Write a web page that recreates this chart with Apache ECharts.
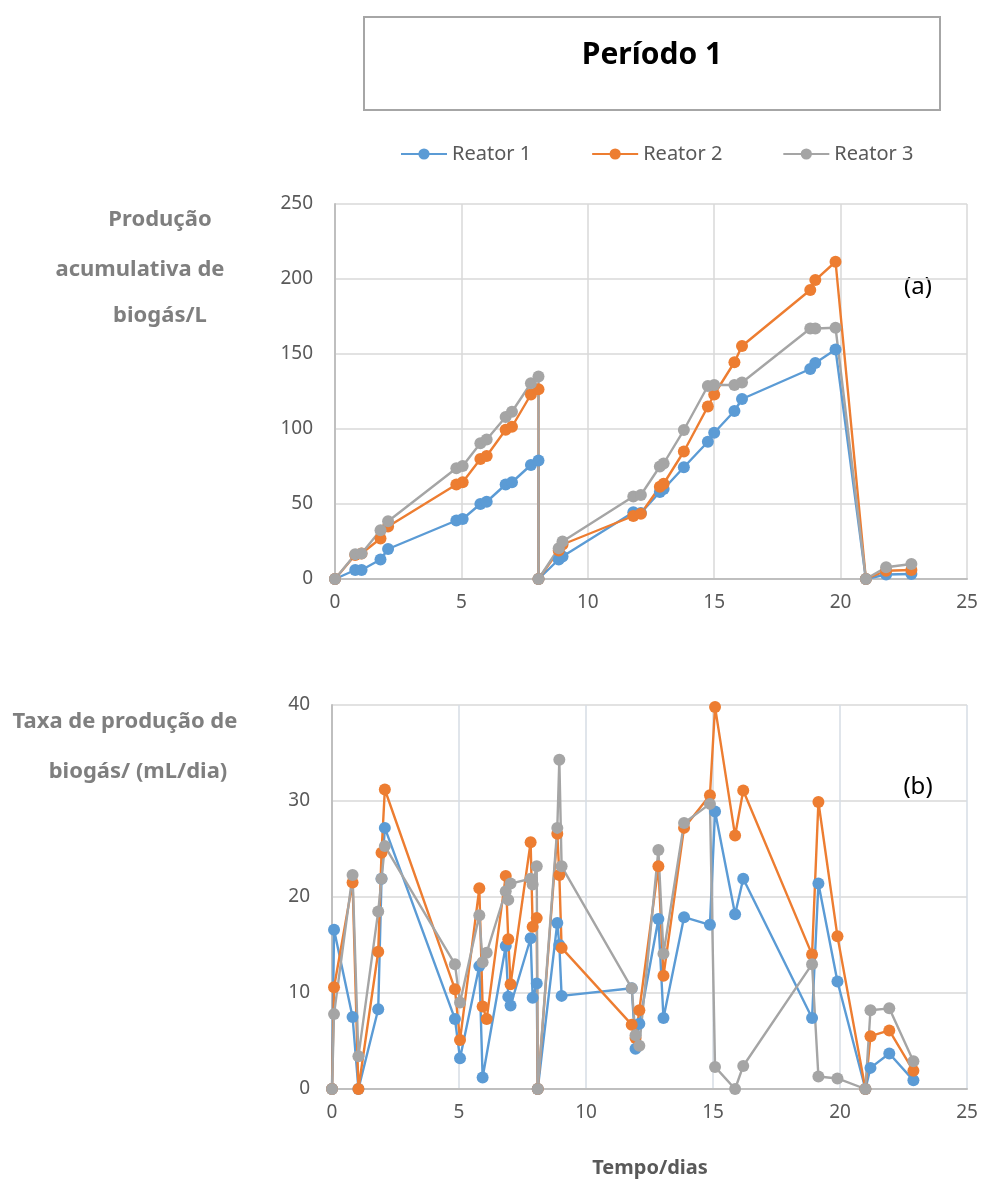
<!DOCTYPE html>
<html>
<head>
<meta charset="utf-8">
<script src="https://cdn.jsdelivr.net/npm/echarts@6.0.0/dist/echarts.min.js"></script>
<style>
html,body{margin:0;padding:0;background:#fff;}
#c{width:986px;height:1184px;}
</style>
</head>
<body>
<div id="c"></div>
<script>
// ---- Data (a): cumulative biogas production (L) ----
const timeA = [0,0.8,1.05,1.8,2.1,4.8,5.05,5.75,6.0,6.75,7.0,7.75,8.05,8.05,8.85,9.0,11.8,12.1,12.85,13.0,13.8,14.75,15.0,15.8,16.1,18.8,19.0,19.8,21.0,21.8,22.8];
const cumR1 = [0,6,6,13,20,39,40,50,51.5,63,64.5,76,79,0,13,15,44.5,44,58,60,74.5,91.5,97.5,112,120,140,144,153,0,3,3.3];
const cumR2 = [0,16,17,27,35,63,64.5,80,82,99.5,101.5,123,126.5,0,19,23,42,43.5,61.5,63.5,85,115,123,144.5,155.3,192.7,199.3,211.5,0,5.5,6];
const cumR3 = [0,16.5,17,32.5,38.5,73.8,75.3,90.5,93,108,111.5,130.5,135,0,20.5,25,55,56,75,77,99.3,128.7,129.3,129.3,131,167,167,167.5,0,7.8,10];

// ---- Data (b): production rate (mL/dia) ----
const timeB = [0,0.08,0.81,1.04,1.82,1.95,2.08,4.84,5.04,5.8,5.93,6.09,6.84,6.94,7.03,7.82,7.9,8.06,8.1,8.87,8.95,9.04,11.8,11.95,12.1,12.85,13.05,13.86,14.88,15.08,15.87,16.19,18.9,19.15,19.9,21.0,21.2,21.94,22.89];
const rateR1 = [0,16.6,7.5,0,8.3,21.9,27.2,7.3,3.2,12.8,1.2,null,14.9,9.6,8.7,15.7,9.5,11.0,0,17.3,15.0,9.7,10.5,4.2,6.8,17.7,7.4,17.9,17.1,28.9,18.2,21.9,7.4,21.4,11.2,0,2.2,3.7,0.9];
const rateR2 = [0,10.6,21.5,0,14.3,24.6,31.2,10.4,5.1,20.9,8.6,7.3,22.2,15.6,10.9,25.7,16.9,17.8,0,26.6,22.3,14.7,6.7,5.3,8.2,23.2,11.8,27.2,30.6,39.8,26.4,31.1,14.0,29.9,15.9,0,5.5,6.1,1.9];
const rateR3 = [0,7.8,22.3,3.4,18.5,21.9,25.3,13.0,9.0,18.1,13.2,14.2,20.6,19.7,21.4,21.9,21.3,23.2,0,27.2,34.3,23.2,10.5,5.6,4.5,24.9,14.1,27.7,29.7,2.3,0,2.4,13.0,1.3,1.1,0,8.2,8.4,2.9];

const seriesNames = ['Reator 1','Reator 2','Reator 3'];
const colors = ['#5B9BD5','#ED7D31','#A5A5A5'];
const xTicks = {min:0,max:25,interval:5};
const yTicksA = {min:0,max:250,interval:50};
const yTicksB = {min:0,max:40,interval:10};

const pair = (xs, ys) => xs.map((x,i) => [x, ys[i]]);

const chart = echarts.init(document.getElementById('c'), null, {renderer:'canvas'});
const FONT = 'Noto Sans';
const labelStyle = {color:'#595959', fontSize:19, fontFamily:FONT};

function mkX(gridIndex, vColor){
  return {type:'value', gridIndex, min:xTicks.min, max:xTicks.max, interval:xTicks.interval,
    axisLine:{show:true, onZero:false, lineStyle:{color:'#bfbfbf', width:2}},
    axisTick:{show:false},
    axisLabel:Object.assign({margin:14}, labelStyle),
    splitLine:{show:true, lineStyle:{color:vColor, width:1.5}}};
}
function mkY(gridIndex, t){
  return {type:'value', gridIndex, min:t.min, max:t.max, interval:t.interval,
    axisLine:{show:true, lineStyle:{color:'#bfbfbf', width:2}},
    axisTick:{show:false},
    axisLabel:Object.assign({margin:22}, labelStyle),
    splitLine:{show:true, lineStyle:{color:'#d9d9d9', width:1.5}}};
}
function mkSeries(name, color, data, xi){
  return {name, type:'line', xAxisIndex:xi, yAxisIndex:xi, data,
    symbol:'circle', symbolSize:12, connectNulls:true,
    lineStyle:{color, width:2.4}, itemStyle:{color},
    emphasis:{disabled:true}, animation:false};
}

const series = [
  mkSeries(seriesNames[0], colors[0], pair(timeA, cumR1), 0),
  mkSeries(seriesNames[1], colors[1], pair(timeA, cumR2), 0),
  mkSeries(seriesNames[2], colors[2], pair(timeA, cumR3), 0),
  mkSeries(seriesNames[0], colors[0], pair(timeB, rateR1), 1),
  mkSeries(seriesNames[1], colors[1], pair(timeB, rateR2), 1),
  mkSeries(seriesNames[2], colors[2], pair(timeB, rateR3), 1)
];

const sideLabel = {fill:'#7f7f7f', fontSize:22, fontWeight:'bold', fontFamily:FONT, textAlign:'center', textVerticalAlign:'middle'};

chart.setOption({
  backgroundColor:'#ffffff',
  animation:false,
  color:colors,
  legend:{
    data:seriesNames, top:139, left:395, itemGap:60, itemWidth:46, itemHeight:14,
    textStyle:{color:'#595959', fontSize:20, fontFamily:FONT}
  },
  grid:[
    {left:335, top:204, width:632, height:375},
    {left:332, top:705, width:635, height:384}
  ],
  xAxis:[mkX(0,'#d9d9d9'), mkX(1,'#d6dce5')],
  yAxis:[mkY(0,yTicksA), mkY(1,yTicksB)],
  series,
  graphic:[
    {type:'rect', shape:{x:364, y:17, width:576, height:93}, style:{fill:'#fff', stroke:'#a6a6a6', lineWidth:2}},
    {type:'text', x:652, y:55, style:{text:'Período 1', fill:'#000', fontSize:30, fontWeight:'bold', fontFamily:FONT, textAlign:'center', textVerticalAlign:'middle'}},
    {type:'text', x:160, y:220, style:Object.assign({text:'Produção'}, sideLabel)},
    {type:'text', x:140, y:270, style:Object.assign({text:'acumulativa de'}, sideLabel)},
    {type:'text', x:160, y:316, style:Object.assign({text:'biogás/L'}, sideLabel)},
    {type:'text', x:125, y:722, style:Object.assign({text:'Taxa de produção de'}, sideLabel)},
    {type:'text', x:138, y:772, style:Object.assign({text:'biogás/ (mL/dia)'}, sideLabel)},
    {type:'text', x:918, y:287, style:{text:'(a)', fill:'#000', fontSize:24, fontFamily:FONT, textAlign:'center', textVerticalAlign:'middle'}},
    {type:'text', x:918, y:787, style:{text:'(b)', fill:'#000', fontSize:24, fontFamily:FONT, textAlign:'center', textVerticalAlign:'middle'}},
    {type:'text', x:650, y:1168, style:{text:'Tempo/dias', fill:'#595959', fontSize:20, fontWeight:'bold', fontFamily:FONT, textAlign:'center', textVerticalAlign:'middle'}}
  ]
});
</script>
</body>
</html>
